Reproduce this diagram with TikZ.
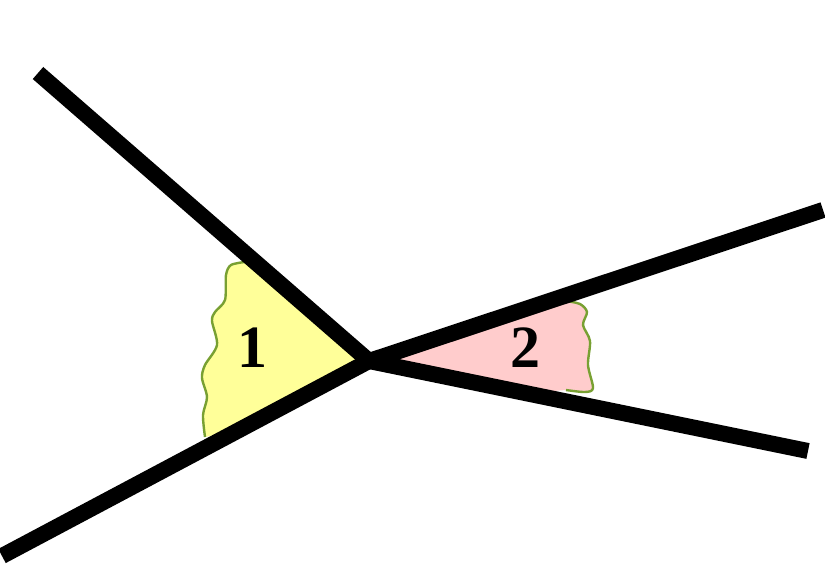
\documentclass[tikz,border=0pt]{standalone}
\usepackage{fontspec}
\setmainfont{Liberation Serif}
\begin{document}
\begin{tikzpicture}[x=1pt,y=-1pt,
  ray/.style={line width=16pt,black,line cap=butt},
  edge/.style={draw={rgb,255:red,120;green,160;blue,50},line width=2.4pt,line join=round},
  lbl/.style={font=\bfseries\fontsize{60}{62}\selectfont,inner sep=0pt}]
\useasboundingbox (0,0) rectangle (825,563);
\definecolor{wyellow}{RGB}{255,255,153}
\definecolor{wpink}{RGB}{255,204,204}
\coordinate (O) at (369,361);
\coordinate (A) at (38,73);
\coordinate (B) at (2,556);
\coordinate (C) at (823,210);
\coordinate (D) at (808,451);
% yellow wedge
\fill[wyellow] (O) -- (262,268) -- plot[smooth] coordinates {(245,262) (231,265) (226,275) (225,300) (215,312) (212,321) (217,345) (205,365) (202,378) (207,397) (203,415) (205,437)} -- (230,432) -- cycle;
\draw[edge] plot[smooth] coordinates {(245,262) (231,265) (226,275) (225,300) (215,312) (212,321) (217,345) (205,365) (202,378) (207,397) (203,415) (205,437)};
% pink wedge
\fill[wpink] (O) -- (560,303) -- plot[smooth] coordinates {(566,301) (580,304) (587,312) (583,325) (590,341) (588,365) (593,388) (585,392) (566,390)} -- (540,392) -- cycle;
\draw[edge] plot[smooth] coordinates {(566,301) (580,304) (587,312) (583,325) (590,341) (588,365) (593,388) (585,392) (566,390)};
% rays
\draw[ray] (O) -- (A);
\draw[ray] (O) -- (B);
\draw[ray] (O) -- (C);
\draw[ray] (O) -- (D);
\node[lbl] (n1) at (252,348) {1};
\node[lbl] (n2) at (525,348) {2};
\end{tikzpicture}
\end{document}
